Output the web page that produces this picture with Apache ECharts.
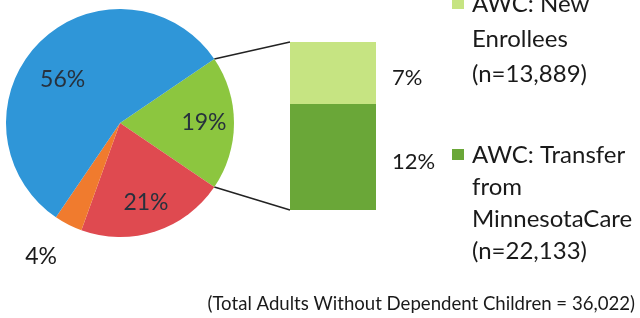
<!DOCTYPE html>
<html>
<head>
<meta charset="utf-8">
<script src="https://cdn.jsdelivr.net/npm/echarts@6/dist/echarts.min.js"></script>
<style>
  html, body { margin: 0; padding: 0; background: #fff; }
  #main { width: 640px; height: 318px; }
</style>
</head>
<body>
<div id="main"></div>
<script>
// pie: AWC (split in the bar) + three other groups
var pieNames = ["AWC", "Group B", "Group C", "Group D"];
var pieValues = [19, 21, 4, 56];
var pieColors = ["#8cc63f", "#df4a50", "#f07b2e", "#2f96d8"];

// bar: breakdown of the AWC slice (bottom first)
var barNames = ["AWC: Transfer from MinnesotaCare", "AWC: New Enrollees"];
var barValues = [12, 7];
var barColors = ["#6aa738", "#c6e482"];
var legendLines = [
    ["AWC: New", "Enrollees", "(n=13,889)"],
    ["AWC: Transfer", "from", "MinnesotaCare", "(n=22,133)"]
];
var footer = "(Total Adults Without Dependent Children = 36,022)";

var font = "Lato";
var cx = 120, cy = 123, r = 114;
var total = pieValues.reduce(function (a, b) { return a + b; }, 0);
var startAngle = pieValues[0] / total * 360 / 2;
var gridLeft = 290, gridTop = 42, gridW = 86, gridH = 168;

var chart = echarts.init(document.getElementById("main"));

var pieData = pieNames.map(function (n, i) {
    var d = { name: n, value: pieValues[i], itemStyle: { color: pieColors[i] } };
    if (i === 2) {
        d.label = {
            show: true, position: "outside", formatter: "{c}%",
            color: "#1a1a1a", fontSize: 23, fontFamily: font
        };
        d.labelLine = { show: false, length: 36, length2: 0 };
    }
    return d;
});

var labelData = pieNames.map(function (n, i) {
    return { name: n, value: pieValues[i], label: { show: i !== 2 } };
});

var option = {
    animation: false,
    title: {
        text: footer,
        right: 0, top: 289,
        textStyle: { fontSize: 18.6, fontWeight: "normal", color: "#1a1a1a", fontFamily: font }
    },
    grid: { left: gridLeft, top: gridTop, width: gridW, height: gridH },
    xAxis: { type: "category", data: ["AWC"], show: false },
    yAxis: { type: "value", min: 0, max: barValues[0] + barValues[1], show: false },
    series: [{
        type: "pie",
        center: [cx, cy], radius: r,
        startAngle: startAngle,
        data: pieData,
        label: { show: false },
        labelLine: { show: false },
        labelLayout: { dx: 5 },
        silent: true
    }, {
        type: "pie",
        center: [cx, cy], radius: [r * 0.42, r],
        startAngle: startAngle,
        data: labelData,
        itemStyle: { color: "rgba(0,0,0,0)" },
        label: {
            position: "inside", formatter: "{c}%",
            color: "#27313d", fontSize: 23, fontFamily: font
        },
        labelLayout: function (p) {
            return p.dataIndex === 3 ? { dx: 1, dy: 8 } : {};
        },
        labelLine: { show: false },
        silent: true
    }].concat(barNames.map(function (n, i) {
        return {
            type: "bar", name: n, stack: "awc",
            data: [barValues[i]],
            barWidth: "100%",
            itemStyle: { color: barColors[i] },
            label: {
                show: true, position: "right", distance: 16, offset: [0, 5],
                formatter: "{c}%", color: "#1a1a1a", fontSize: 22, fontFamily: font
            },
            silent: true
        };
    }))
};
chart.setOption(option);

// connector lines from the AWC slice edges to the bar
var a = startAngle * Math.PI / 180;
var pTop = [cx + r * Math.cos(a), cy - r * Math.sin(a)];
var pBot = [cx + r * Math.cos(a), cy + r * Math.sin(a)];
var barTop = chart.convertToPixel({ gridIndex: 0 }, [0, barValues[0] + barValues[1]]);
var barBot = chart.convertToPixel({ gridIndex: 0 }, [0, 0]);

var graphics = [
    { type: "line", shape: { x1: pTop[0], y1: pTop[1], x2: gridLeft, y2: barTop[1] }, style: { stroke: "#222", lineWidth: 1.5 } },
    { type: "line", shape: { x1: pBot[0], y1: pBot[1], x2: gridLeft, y2: barBot[1] }, style: { stroke: "#222", lineWidth: 1.5 } }
];

// legend, markers aligned to the first line
var legendTops = [-13, 139];
var legendLH = [35, 32];
var markerTops = [-2, 149];
var legendColors = [barColors[1], barColors[0]];
legendLines.forEach(function (lines, i) {
    graphics.push({ type: "rect", shape: { x: 452, y: markerTops[i], width: 12, height: 11 }, style: { fill: legendColors[i] } });
    graphics.push({
        type: "text", x: 472, y: legendTops[i],
        style: { text: lines.join("\n"), fontSize: 24, lineHeight: legendLH[i], fontFamily: font, fill: "#1a1a1a" }
    });
});
chart.setOption({ graphic: graphics });
</script>
</body>
</html>
